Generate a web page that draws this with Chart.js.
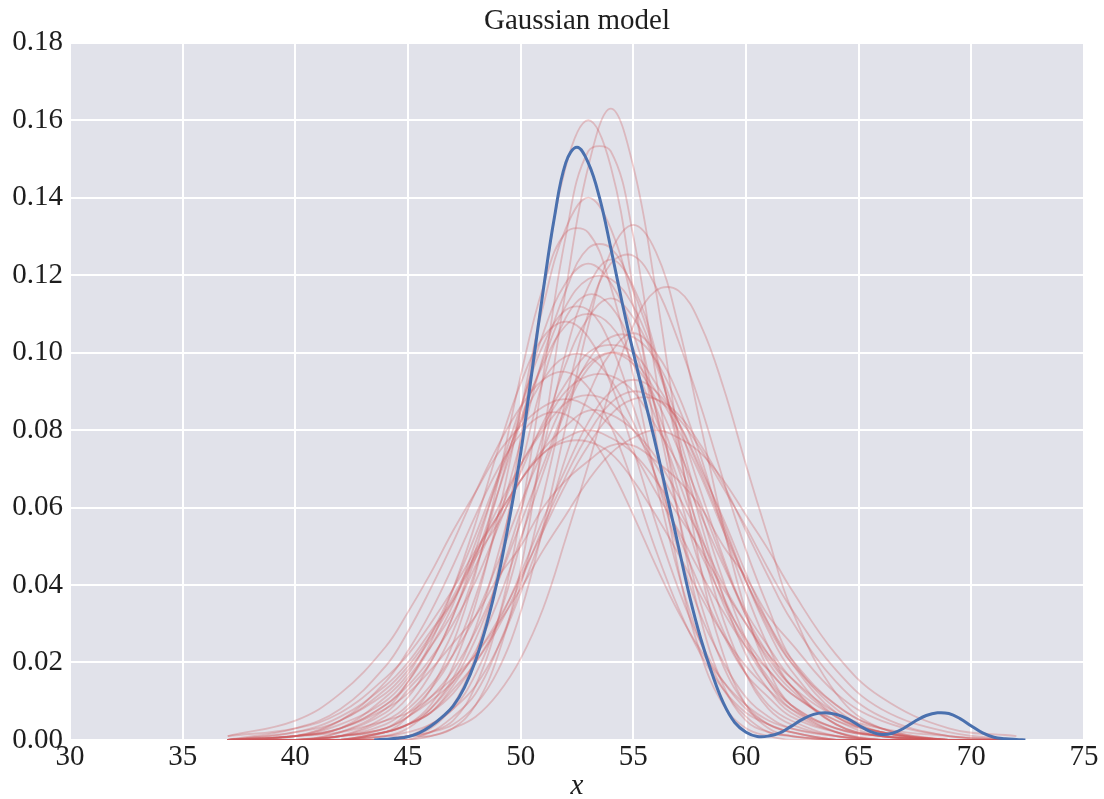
<!DOCTYPE html>
<html>
<head>
<meta charset="utf-8">
<script src="https://cdn.jsdelivr.net/npm/chart.js@4/dist/chart.umd.min.js"></script>
<style>
  html, body { margin: 0; padding: 0; background: #ffffff; }
  #wrap { width: 1104px; height: 799px; }
</style>
</head>
<body>
<div id="wrap"><canvas id="c" width="1104" height="799"></canvas></div>
<script>
// ---- data ----
const chartTitle = "Gaussian model";
const xAxisTitle = "x";
const xTickValues = [30, 35, 40, 45, 50, 55, 60, 65, 70, 75];
const yTickLabels = ["0.00","0.02","0.04","0.06","0.08","0.10","0.12","0.14","0.16","0.18"];

// observed density (blue)
const obsX = [43.5,44.0,44.5,45.0,45.5,46.0,46.5,47.0,47.5,48.0,48.5,49.0,49.5,50.0,50.5,51.0,51.5,52.0,52.5,53.0,53.5,54.0,54.5,55.0,55.5,56.0,56.5,57.0,57.5,58.0,58.5,59.0,59.5,60.0,60.5,61.0,61.5,62.0,62.5,63.0,63.5,64.0,64.5,65.0,65.5,66.0,66.5,67.0,67.5,68.0,68.5,69.0,69.5,70.0,70.5,71.0,71.5,72.0,72.4];
const obsY = [0,0.0002,0.0004,0.0008,0.0018,0.0035,0.0058,0.0087,0.0135,0.0205,0.030,0.042,0.057,0.074,0.095,0.116,0.135,0.149,0.153,0.149,0.140,0.127,0.113,0.100,0.088,0.076,0.063,0.050,0.037,0.026,0.017,0.0095,0.0045,0.002,0.0009,0.001,0.0018,0.0035,0.0053,0.0066,0.007,0.0066,0.0055,0.0038,0.0022,0.0014,0.0017,0.003,0.0048,0.0063,0.007,0.0068,0.0055,0.0036,0.0018,0.0007,0.0003,0.0001,0];

// posterior predictive densities (red), sampled on ppcX
const ppcX = [37,40,42,44,45,46,47,48,49,50,51,52,53,54,55,56,57,58,59,60,61,62,64,66,69,72];
const ppc01 = [0,0,0,0,0.001,0.003,0.009,0.022,0.044,0.078,0.116,0.148,0.160,0.148,0.116,0.078,0.044,0.022,0.009,0.003,0.001,0,0,0,0,0];
const ppc02 = [0,0,0,0,0,0.001,0.003,0.009,0.022,0.044,0.078,0.116,0.148,0.163,0.148,0.116,0.078,0.044,0.022,0.009,0.003,0.001,0,0,0,0];
const ppc03 = [0,0,0,0,0,0.002,0.005,0.014,0.031,0.058,0.094,0.130,0.152,0.152,0.130,0.094,0.058,0.031,0.014,0.005,0.002,0.001,0,0,0,0];
const ppc04 = [0,0,0,0.002,0.004,0.009,0.019,0.035,0.058,0.085,0.112,0.132,0.140,0.132,0.112,0.085,0.058,0.035,0.019,0.009,0.004,0.002,0,0,0,0];
const ppc05 = [0,0,0,0.002,0.006,0.013,0.025,0.043,0.067,0.094,0.117,0.131,0.131,0.117,0.094,0.067,0.043,0.025,0.013,0.006,0.002,0.001,0,0,0,0];
const ppc06 = [0,0,0,0.001,0.001,0.004,0.008,0.017,0.031,0.051,0.075,0.100,0.117,0.124,0.117,0.100,0.075,0.051,0.031,0.017,0.008,0.004,0.001,0,0,0];
const ppc07 = [0,0,0,0,0.001,0.002,0.004,0.009,0.018,0.033,0.055,0.081,0.107,0.126,0.133,0.126,0.107,0.081,0.055,0.033,0.018,0.009,0.002,0,0,0];
const ppc08 = [0,0,0.002,0.008,0.015,0.025,0.039,0.056,0.075,0.092,0.104,0.108,0.104,0.092,0.075,0.056,0.039,0.025,0.015,0.008,0.004,0.002,0,0,0,0];
const ppc09 = [0,0,0.001,0.005,0.009,0.017,0.028,0.044,0.064,0.085,0.105,0.118,0.123,0.118,0.105,0.085,0.064,0.044,0.028,0.017,0.009,0.005,0.001,0,0,0];
const ppc10 = [0,0,0,0.002,0.004,0.008,0.015,0.026,0.041,0.059,0.079,0.097,0.109,0.114,0.109,0.097,0.079,0.059,0.041,0.026,0.015,0.008,0.002,0,0,0];
const ppc11 = [0,0,0.001,0.003,0.007,0.013,0.022,0.037,0.056,0.077,0.099,0.116,0.127,0.127,0.116,0.099,0.077,0.056,0.037,0.022,0.013,0.007,0.002,0,0,0];
const ppc12 = [0,0,0,0,0.001,0.001,0.003,0.006,0.012,0.021,0.034,0.052,0.071,0.091,0.107,0.116,0.116,0.107,0.091,0.071,0.052,0.034,0.012,0.003,0,0];
const ppc13 = [0,0,0,0.001,0.002,0.004,0.008,0.014,0.024,0.038,0.054,0.073,0.089,0.100,0.105,0.100,0.089,0.073,0.054,0.038,0.024,0.014,0.004,0.001,0,0];
const ppc14 = [0,0.001,0.003,0.011,0.017,0.027,0.039,0.053,0.068,0.082,0.093,0.099,0.099,0.093,0.082,0.068,0.053,0.039,0.027,0.017,0.011,0.006,0.002,0,0,0];
const ppc15 = [0,0.001,0.003,0.009,0.015,0.024,0.035,0.051,0.067,0.083,0.097,0.107,0.110,0.107,0.097,0.083,0.067,0.051,0.035,0.024,0.015,0.009,0.003,0.001,0,0];
const ppc16 = [0,0,0.001,0.004,0.008,0.014,0.022,0.032,0.046,0.061,0.075,0.088,0.097,0.100,0.097,0.088,0.075,0.061,0.046,0.032,0.022,0.014,0.004,0.001,0,0];
const ppc17 = [0,0,0.001,0.002,0.004,0.007,0.013,0.020,0.030,0.043,0.057,0.070,0.082,0.090,0.093,0.090,0.082,0.070,0.057,0.043,0.030,0.020,0.007,0.002,0,0];
const ppc18 = [0,0,0.002,0.007,0.013,0.020,0.032,0.047,0.064,0.082,0.098,0.112,0.119,0.119,0.112,0.098,0.082,0.064,0.047,0.032,0.020,0.013,0.004,0.001,0,0];
const ppc19 = [0,0.001,0.005,0.015,0.023,0.033,0.045,0.058,0.070,0.079,0.084,0.084,0.079,0.070,0.058,0.045,0.033,0.023,0.015,0.009,0.005,0.003,0.001,0,0,0];
const ppc20 = [0,0.001,0.005,0.012,0.018,0.026,0.036,0.048,0.060,0.071,0.080,0.087,0.089,0.087,0.080,0.071,0.060,0.048,0.036,0.026,0.018,0.012,0.005,0.001,0,0];
const ppc21 = [0,0.001,0.003,0.009,0.014,0.021,0.030,0.041,0.055,0.069,0.082,0.092,0.100,0.102,0.100,0.092,0.082,0.069,0.055,0.041,0.030,0.021,0.009,0.003,0,0];
const ppc22 = [0,0,0.001,0.003,0.006,0.010,0.015,0.022,0.031,0.042,0.054,0.066,0.076,0.084,0.088,0.088,0.084,0.076,0.066,0.054,0.042,0.031,0.015,0.006,0.001,0];
const ppc23 = [0,0.002,0.005,0.013,0.019,0.027,0.037,0.048,0.058,0.067,0.074,0.077,0.077,0.074,0.067,0.058,0.048,0.037,0.027,0.019,0.013,0.008,0.003,0.001,0,0];
const ppc24 = [0,0.001,0.004,0.010,0.016,0.024,0.033,0.045,0.058,0.071,0.081,0.090,0.094,0.094,0.090,0.081,0.071,0.058,0.045,0.033,0.024,0.016,0.006,0.002,0,0];
const ppc25 = [0.001,0.003,0.007,0.016,0.022,0.030,0.039,0.049,0.058,0.067,0.074,0.078,0.080,0.078,0.074,0.067,0.058,0.049,0.039,0.030,0.022,0.016,0.007,0.003,0.001,0];
const ppc26 = [0,0.001,0.003,0.008,0.012,0.018,0.025,0.032,0.042,0.050,0.060,0.067,0.072,0.076,0.076,0.072,0.067,0.060,0.050,0.042,0.032,0.025,0.012,0.005,0.001,0];
const ppc27 = [0.001,0.005,0.012,0.024,0.033,0.043,0.054,0.064,0.074,0.081,0.086,0.088,0.086,0.081,0.074,0.064,0.054,0.043,0.033,0.024,0.018,0.012,0.005,0.002,0,0];
const ppc28 = [0,0.001,0.002,0.005,0.007,0.011,0.016,0.022,0.030,0.039,0.049,0.058,0.067,0.074,0.078,0.080,0.078,0.074,0.067,0.058,0.049,0.039,0.022,0.011,0.003,0.001];
const ppc29 = [0,0,0.001,0.006,0.011,0.020,0.032,0.049,0.068,0.086,0.102,0.111,0.111,0.102,0.086,0.068,0.049,0.032,0.020,0.011,0.006,0.003,0.001,0,0,0];
const ppc30 = [0,0,0.001,0.003,0.006,0.011,0.018,0.028,0.041,0.056,0.071,0.086,0.098,0.104,0.104,0.098,0.086,0.071,0.056,0.041,0.028,0.018,0.006,0.002,0,0];
const ppc31 = [0,0,0,0.002,0.004,0.007,0.014,0.023,0.036,0.052,0.069,0.085,0.096,0.100,0.098,0.090,0.080,0.068,0.054,0.041,0.029,0.020,0.009,0.003,0,0];
const ppc32 = [0,0,0,0.001,0.003,0.008,0.016,0.029,0.048,0.070,0.093,0.109,0.115,0.112,0.101,0.086,0.070,0.053,0.037,0.025,0.016,0.009,0.003,0.001,0,0];
const ppc33 = [0,0,0,0.002,0.004,0.007,0.012,0.020,0.029,0.041,0.055,0.068,0.079,0.087,0.090,0.088,0.083,0.075,0.065,0.055,0.044,0.034,0.018,0.008,0.002,0];
const ppc34 = [0,0.003,0.008,0.019,0.028,0.039,0.051,0.064,0.076,0.086,0.093,0.095,0.091,0.081,0.066,0.049,0.034,0.022,0.013,0.007,0.004,0.002,0,0,0,0];
const ppc35 = [0,0,0,0,0.001,0.002,0.006,0.012,0.024,0.040,0.063,0.088,0.110,0.123,0.125,0.117,0.103,0.086,0.067,0.049,0.034,0.021,0.008,0.002,0,0];
const ppc36 = [0,0.002,0.006,0.014,0.020,0.028,0.036,0.047,0.056,0.067,0.075,0.081,0.085,0.084,0.080,0.073,0.063,0.052,0.040,0.030,0.021,0.014,0.006,0.002,0,0];

const ppcSeries = [ppc01,ppc02,ppc03,ppc04,ppc05,ppc06,ppc07,ppc08,ppc09,ppc10,
                   ppc11,ppc12,ppc13,ppc14,ppc15,ppc16,ppc17,ppc18,ppc19,ppc20,
                   ppc21,ppc22,ppc23,ppc24,ppc25,ppc26,ppc27,ppc28,ppc29,ppc30,
                   ppc31,ppc32,ppc33,ppc34,ppc35,ppc36];

// ---- styles ----
const FONT = "'Liberation Serif', 'Times New Roman', serif";
const TEXT = '#1e1e1e';
const PLOT_BG = '#e1e2ea';
const RED = 'rgba(205, 85, 90, 0.30)';
const BLUE = '#4a70ae';

const datasets = [];
datasets.push({
  label: 'observed',
  data: obsX.map((x, i) => ({ x: x, y: obsY[i] })),
  borderColor: BLUE,
  borderWidth: 3,
  pointRadius: 0,
  fill: false,
  tension: 0.4,
  order: 0
});
ppcSeries.forEach((arr, k) => {
  datasets.push({
    label: 'ppc' + (k + 1),
    data: ppcX.map((x, i) => ({ x: x, y: arr[i] })),
    borderColor: RED,
    borderWidth: 1.8,
    pointRadius: 0,
    fill: false,
    tension: 0.4,
    order: 1
  });
});

const plotBg = {
  id: 'plotBg',
  beforeDraw(chart) {
    const { ctx, chartArea: a } = chart;
    ctx.save();
    ctx.fillStyle = PLOT_BG;
    ctx.fillRect(a.left, a.top, a.right - a.left, a.bottom - a.top);
    ctx.restore();
  }
};

new Chart(document.getElementById('c'), {
  type: 'line',
  data: { datasets },
  plugins: [plotBg],
  options: {
    responsive: false,
    animation: false,
    events: [],
    layout: { padding: { left: 0, right: 20, top: 0, bottom: 0 } },
    plugins: {
      legend: { display: false },
      tooltip: { enabled: false },
      title: {
        display: true,
        fullSize: false,
        text: chartTitle,
        color: TEXT,
        font: { family: FONT, size: 29, weight: 'normal' },
        padding: { top: 4, bottom: 4 }
      }
    },
    scales: {
      x: {
        type: 'linear',
        min: 30, max: 75,
        afterBuildTicks(scale) { scale.ticks = xTickValues.map(v => ({ value: v })); },
        ticks: {
          color: TEXT,
          font: { family: FONT, size: 29 },
          padding: 0,
          maxRotation: 0,
          callback: (v) => String(v)
        },
        grid: { color: '#ffffff', lineWidth: 2, drawTicks: false },
        border: { display: false },
        title: {
          display: true,
          text: xAxisTitle,
          color: TEXT,
          font: { family: FONT, size: 29, style: 'italic' },
          padding: { top: -5.5, bottom: -5 }
        }
      },
      y: {
        type: 'linear',
        min: 0, max: 0.18,
        afterBuildTicks(scale) { scale.ticks = yTickLabels.map(s => ({ value: parseFloat(s) })); },
        afterFit(scale) { scale.width = 70; },
        ticks: {
          color: TEXT,
          font: { family: FONT, size: 29 },
          padding: 7,
          callback: (v, i) => yTickLabels[i]
        },
        grid: { color: '#ffffff', lineWidth: 2, drawTicks: false },
        border: { display: false }
      }
    }
  }
});
</script>
</body>
</html>
